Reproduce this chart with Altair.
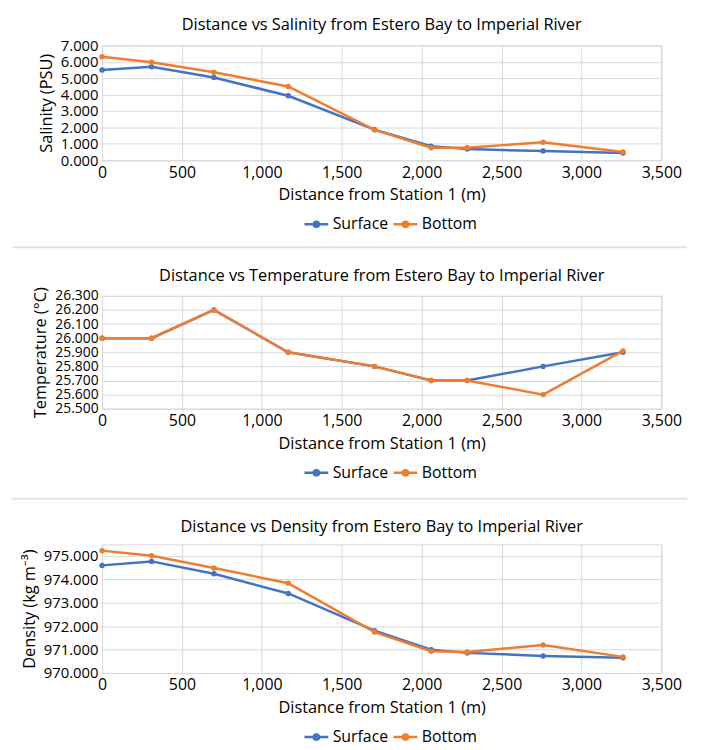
import altair as alt
import pandas as pd

distance = [0, 310, 700, 1165, 1705, 2060, 2285, 2760, 3260]
sal_surface = [5.50, 5.70, 5.04, 3.93, 1.87, 0.86, 0.68, 0.56, 0.44]
sal_bottom = [6.31, 5.97, 5.36, 4.50, 1.85, 0.76, 0.76, 1.10, 0.50]
temp_surface = [26.0, 26.0, 26.2, 25.9, 25.8, 25.7, 25.7, 25.8, 25.9]
temp_bottom = [26.0, 26.0, 26.2, 25.9, 25.8, 25.7, 25.7, 25.6, 25.91]
dens_surface = [974.60, 974.77, 974.24, 973.40, 971.81, 971.00, 970.86, 970.73, 970.65]
dens_bottom = [975.23, 975.01, 974.49, 973.84, 971.75, 970.93, 970.90, 971.20, 970.69]
series = ["Surface", "Bottom"]
colors = ["#4472C4", "#ED7D31"]
x_ticks = [0, 500, 1000, 1500, 2000, 2500, 3000, 3500]

FONT = "Open Sans"
W = 565
LEG_SYM = "M-1,0L1,0M-0.22,0A0.22,0.22,0,1,1,0.22,0A0.22,0.22,0,1,1,-0.22,0Z"


def panel(title, ytitle, surf, bot, ydomain, yticks, h, sep, toff, ylab):
    df = pd.DataFrame({
        "distance": distance + distance,
        "value": surf + bot,
        "series": [series[0]] * len(distance) + [series[1]] * len(distance),
    })
    base = alt.Chart(df).encode(
        x=alt.X("distance:Q",
                scale=alt.Scale(domain=[0, 3500], nice=False),
                axis=alt.Axis(values=x_ticks, format=",.0f", title="Distance from Station 1 (m)")),
        y=alt.Y("value:Q",
                scale=alt.Scale(domain=ydomain, nice=False, zero=False),
                axis=alt.Axis(values=yticks, format=".3f", title=ytitle,
                              labelFontSize=ylab, labelOverlap=False)),
        color=alt.Color("series:N",
                        scale=alt.Scale(domain=series, range=colors),
                        legend=alt.Legend(orient="none", legendX=203, legendY=h + 51,
                                          direction="horizontal", title=None,
                                          symbolType=LEG_SYM, symbolSize=576,
                                          symbolStrokeWidth=2.5, columnPadding=-1,
                                          labelOffset=3)),
    )
    layers = []
    for s in series:
        sub = base.transform_filter(alt.datum.series == s)
        layers.append(sub.mark_line(strokeWidth=2.5))
        layers.append(sub.mark_point(filled=True, size=30, opacity=1))
    if sep is not None:
        rule = alt.Chart(pd.DataFrame({"k": [0]})).mark_rule(
            color="#e3e3e3", strokeWidth=2).encode(
            x=alt.value(-91), x2=alt.value(591), y=alt.value(h + sep))
        layers.append(rule)
    return alt.layer(*layers).properties(
        width=W, height=h,
        title=alt.TitleParams(title, fontSize=16.5, font=FONT, fontWeight="normal",
                              color="#000", offset=toff, frame="group"))


p1 = panel("Distance vs Salinity from Estero Bay to Imperial River", "Salinity (PSU)",
           sal_surface, sal_bottom, [0, 7], [0, 1, 2, 3, 4, 5, 6, 7], 116, 88, 5, 15)
p2 = panel("Distance vs Temperature from Estero Bay to Imperial River", "Temperature (°C)",
           temp_surface, temp_bottom, [25.5, 26.3],
           [25.5, 25.6, 25.7, 25.8, 25.9, 26.0, 26.1, 26.2, 26.3], 114, 91, 2, 14)
p3 = panel("Distance vs Density from Estero Bay to Imperial River", "Density (kg m⁻³)",
           dens_surface, dens_bottom, [970, 975.5], [970, 971, 972, 973, 974, 975], 130, None, 9, 15)

chart = alt.vconcat(p1, p2, p3, spacing=18).resolve_scale(
    color="independent", y="independent").resolve_legend(color="independent").properties(
    padding={"left": 2, "top": 5, "right": 5, "bottom": 2}
).configure(
    font=FONT
).configure_axis(
    labelFontSize=16, titleFontSize=16.5, labelColor="#000", titleColor="#000",
    titleFontWeight="normal", gridColor="#d9d9d9", domain=False, ticks=False,
    labelFont=FONT, titleFont=FONT, labelPadding=4, titlePadding=6, labelFlush=False
).configure_axisX(titlePadding=7).configure_legend(
    labelFontSize=16, labelFont=FONT, labelColor="#000"
).configure_view(stroke="#d9d9d9")

chart.save("out.html", embed_options={"renderer": "svg", "actions": False})
